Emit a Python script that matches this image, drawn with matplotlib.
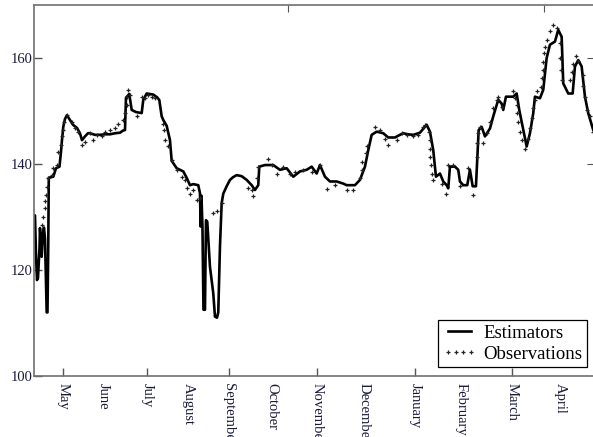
import matplotlib
matplotlib.use("Agg")
import matplotlib.pyplot as plt

# day index (0 = start of series) and level
est_t = [0, 1, 2, 3, 4, 5.5, 6, 7.7, 9, 10, 11, 12.7, 13.5, 14.3, 14.8, 19.3, 22, 25.5,
         27, 28, 29.3, 31, 33, 36, 39, 43, 46, 48, 51, 54, 56, 61, 66, 71, 76, 81, 86, 89,
         91, 92, 95.3, 97.7, 102, 107.7, 109.3, 112.7, 116, 119.3, 123, 125.3, 127.7,
         129.3, 132.7, 136, 137.7, 142.7, 146, 149.3, 152.7, 156, 159.3, 164.3, 166,
         166.7, 167.5, 168.5, 169.5, 171, 172, 173.3, 176, 179.3, 181, 183, 184.3, 186,
         187.7, 189.3, 192.7, 196, 199, 202.7, 207.7, 212.7, 217.7, 221, 224.3, 225.3,
         231, 239.3, 246, 252.7, 259.3, 266, 272.7, 277.7, 282.7, 286, 291, 296, 302.7,
         309.3, 312.7, 321, 326, 331, 334.3, 337.7, 342.7, 349.3, 354.3, 361, 366, 369.3,
         374, 379.3, 386, 392.7, 396, 399.3, 401, 402, 406, 409.3, 412.7, 414.3, 416, 421,
         424.3, 426, 429.3, 433.3, 436, 438.7, 442, 443.3, 444.7, 447.7, 451, 456, 459.3,
         464.3, 467.7, 469.3, 472, 479.3, 482.7, 485.3, 488.7, 492.7, 496, 499.3, 501, 506,
         509.3, 512.7, 516, 521, 524.3, 527.7, 529.3, 534.3, 538.7, 541, 544.3, 547.7, 551,
         554.3, 559.3]
est_v = [130, 130.3, 123, 118.1, 118.5, 124, 127.9, 122.5, 127, 128, 126, 112, 112, 125,
         137.4, 137.6, 139.2, 139.5, 142.3, 144.5, 147, 148.5, 149.2, 148.3, 147.4, 146.8,
         145.8, 144.5, 145.2, 145.8, 145.8, 145.5, 145.5, 145.6, 145.6, 145.8, 145.9,
         146.3, 146.4, 152.5, 153.2, 150.2, 149.8, 149.6, 152.1, 153.3, 153.2, 153.1,
         152.6, 152.1, 149, 148.3, 147.2, 144.5, 140.6, 139.2, 138.9, 138.6, 137.4, 136,
         136.2, 136, 134.5, 128.2, 134, 128, 112.5, 112.5, 129.4, 129.1, 120.6, 115.6,
         111.2, 111, 112, 124.5, 132.6, 134.4, 135.8, 137, 137.5, 137.9, 137.7, 137, 136,
         135.1, 136, 139.5, 139.8, 139.8, 138.9, 139.2, 137.6, 138.6, 138.9, 139.5, 138.2,
         139.8, 137.6, 136.7, 136.7, 136.3, 136, 136, 137, 139.5, 142.6, 145.5, 146.1,
         145.8, 145, 145, 145.5, 145.8, 145.6, 145.5, 145.9, 147.4, 146.1, 142.6, 139.5,
         137.6, 138.2, 136.7, 136, 135.4, 139.5, 139.5, 138.9, 136.7, 136, 136, 138.9,
         135.8, 135.8, 140.8, 146.4, 147, 145.2, 146.7, 149, 152.1, 151.4, 150.2, 152.7,
         152.7, 153.3, 150.2, 147, 143.3, 145.8, 149.6, 152.7, 152.4, 154, 160, 162.5,
         163.1, 165.3, 164, 155.2, 153.3, 153.3, 158.4, 159.6, 158.4, 152.7, 149.6, 146.4]

obs_t = [7.7, 9.3, 11, 11.5, 12, 12.7, 14.3, 17.7, 19.3, 22.7, 24.3, 26.7, 27.7, 28.7,
         30.3, 32.7, 37.7, 41, 44.3, 47.7, 51, 56, 59.3, 62.7, 67.7, 71, 76, 81, 84.3,
         89.3, 91, 92.7, 93.5, 94.3, 96, 102.7, 107.7, 111, 114.3, 117.7, 121, 129.3, 130,
         131, 134.3, 137.7, 142.7, 147.7, 151, 152.7, 156, 159.3, 162.7, 166, 178.7,
         183.3, 187.7, 214.3, 217.7, 219.3, 222.7, 224.3, 234.3, 237.7, 242.7, 249.3, 256,
         261, 269.3, 277.7, 286, 292.7, 301, 312.7, 319.3, 326, 327.7, 328.3, 332, 333.3,
         341, 346, 351, 354.3, 362.7, 367.7, 372.7, 379.3, 384.3, 389.3, 391, 395.3, 396,
         396.3, 396.5, 396.7, 397.7, 399.3, 407.7, 412, 414.3, 419.3, 426, 434.3, 438.7,
         442.7, 443.3, 443.7, 446, 449.3, 452.7, 456, 459.3, 462.7, 464.3, 467.7, 479.3,
         481, 482.7, 483.3, 484.3, 486, 487.7, 491, 494.3, 496, 497.7, 499.3, 501, 502.7,
         507.5, 508, 508.7, 509.3, 510, 511, 512.7, 516, 519.3, 522.7, 526, 526.3, 526.6,
         527.7, 536, 537.7, 539.3, 542, 544.3, 548.7, 549.3, 551, 552.7, 556, 559.3]
obs_v = [128.5, 130, 131.7, 133, 134.2, 135.7, 137.4, 137.9, 139.2, 139.8, 142.3, 143.6,
         145.2, 146.4, 148, 149.2, 148, 146.7, 146.1, 143.6, 144.2, 145.8, 144.5, 145.5,
         145.2, 146.1, 146.4, 146.7, 147.6, 148.3, 149.6, 151.1, 152.7, 154, 153, 149,
         152.7, 152.4, 153, 152.7, 152.4, 147.6, 146.4, 144.5, 143.3, 140.8, 138.9, 137.6,
         137, 135.4, 134.4, 135.1, 133.2, 133.5, 130.7, 131.1, 132.6, 135.4, 135, 133.9,
         137.4, 139.5, 140.9, 139.8, 138.2, 139.5, 138.2, 138.4, 138.9, 138.4, 139.8,
         135.3, 136, 135.1, 135.1, 137.3, 138.9, 140.4, 142, 143.3, 147, 146.4, 144.8,
         143.6, 144.6, 145.8, 145.5, 145.2, 145.5, 147, 147.4, 146.1, 144.5, 142.9, 141.4,
         139.8, 138.2, 137, 136.3, 134.4, 139.8, 139.8, 135.8, 139.2, 134.2, 141.4, 143.9,
         145.8, 147, 143.9, 145.8, 148, 150.5, 152.1, 152.7, 150.8, 153.8, 152.4, 151.1,
         149.6, 148, 146.1, 144.5, 142.9, 144.8, 146.7, 148.6, 150.5, 152.1, 153.7, 154.6,
         156.2, 157.7, 159.3, 160.9, 162.1, 163.4, 165, 166.2, 165.7, 162.8, 160, 157.7,
         155.8, 155.8, 157.3, 158.8, 160.4, 159.4, 156.8, 154.7, 152.7, 150.2, 149, 146.1]

months = ["May", "June", "July", "August", "September", "October", "November",
          "December", "January", "February", "March", "April"]
month_pos = [29, 69, 113, 154, 195, 238, 283, 330, 381, 427, 478, 526]

fig = plt.figure(figsize=(5.93, 4.37), dpi=100)
ax = fig.add_axes([0.0573, 0.1396, 0.9443, 0.849])

ax.plot(est_t, est_v, color="black", lw=1.9, label="Estimators")
ax.plot(obs_t, obs_v, ls="none", marker="+", ms=3.5, mew=0.9, color="#222222",
        label="Observations")

ax.set_xlim(0, 560)
ax.set_ylim(100, 170)
ax.set_yticks([100, 120, 140, 160])
ax.set_xticks(month_pos)
ax.set_xticklabels(months, rotation=270, va="top", ha="center")

for lab in ax.get_xticklabels() + ax.get_yticklabels():
    lab.set_fontfamily("Liberation Serif")
    lab.set_fontsize(10.5)
    lab.set_color("#1a1a3a")

ax.tick_params(axis="both", direction="in", length=6, width=1, color="#555555")
ax.tick_params(axis="y", pad=1)
ax.tick_params(axis="x", pad=5)
for i, tk in enumerate(ax.xaxis.get_major_ticks()):
    tk.tick1line.set_visible(i % 2 == 0)

for side in ["left", "bottom", "top", "right"]:
    ax.spines[side].set_color("#707070")
    ax.spines[side].set_linewidth(1.2)

top = ax.secondary_xaxis("top")
top.set_xticks([254, 510])
top.set_xticklabels([])
top.tick_params(direction="in", length=5, color="#555555")
top.spines["top"].set_visible(False)

right = ax.secondary_yaxis("right")
right.set_yticks([140, 160])
right.set_yticklabels([])
right.tick_params(direction="in", length=5, color="#555555")

leg = ax.legend(loc="lower right", bbox_to_anchor=(0.988, 0.024), numpoints=4,
                prop={"family": "Liberation Serif", "size": 13.5}, fancybox=False,
                framealpha=1, edgecolor="black", handlelength=1.8, handletextpad=0.4,
                borderpad=0.24, labelspacing=0.2, borderaxespad=0)
leg.get_frame().set_linewidth(0.9)

fig.savefig("out.png", dpi=100)
